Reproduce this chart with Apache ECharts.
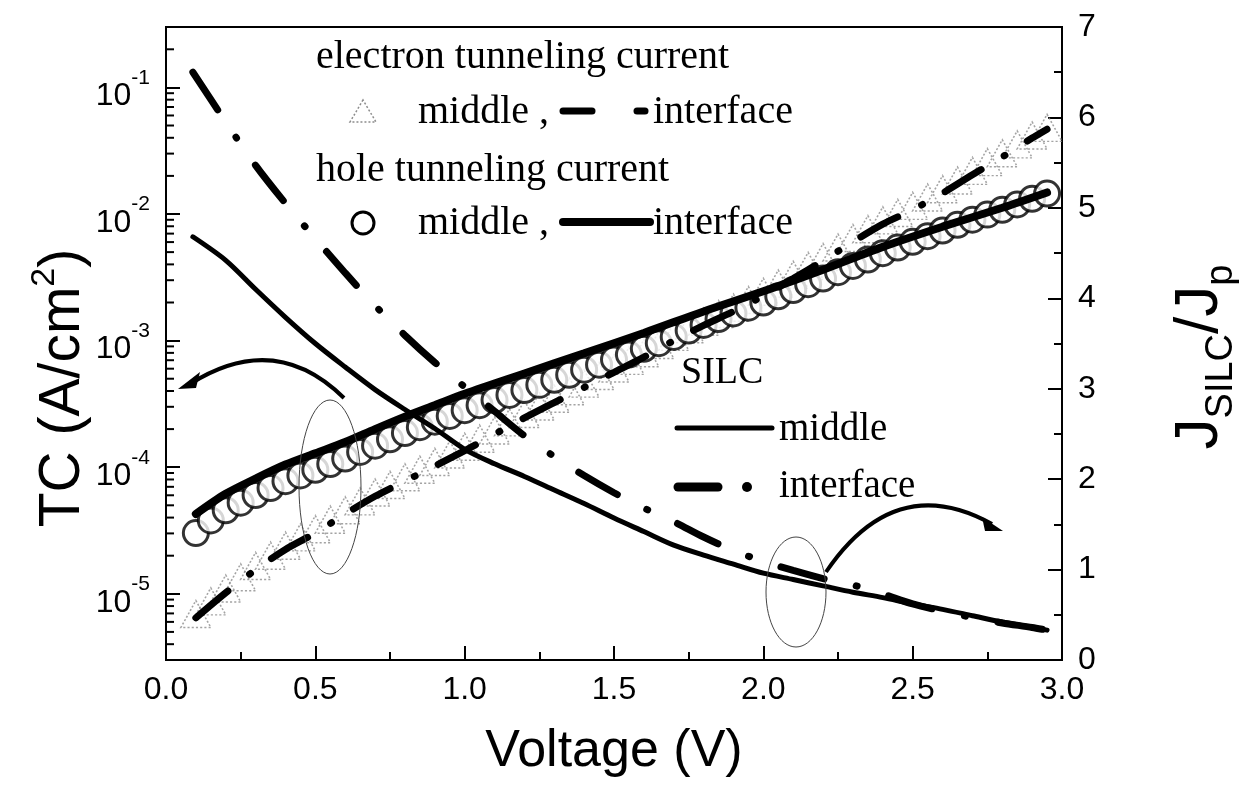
<!DOCTYPE html>
<html><head><meta charset="utf-8">
<script src="https://cdn.jsdelivr.net/npm/echarts@6/dist/echarts.min.js"></script>
<style>html,body{margin:0;padding:0;background:#fff}#c{width:1239px;height:786px}</style>
</head><body><div id="c"></div>
<script>
// ---- data ----
// hole tunneling current, middle (circles), left log axis, A/cm^2
const voltCircle = [0.10,0.15,0.20,0.25,0.30,0.35,0.40,0.45,0.50,0.55,0.60,0.65,0.70,0.75,0.80,0.85,0.90,0.95,1.00,1.05,1.10,1.15,1.20,1.25,1.30,1.35,1.40,1.45,1.50,1.55,1.60,1.65,1.70,1.75,1.80,1.85,1.90,1.95,2.00,2.05,2.10,2.15,2.20,2.25,2.30,2.35,2.40,2.45,2.50,2.55,2.60,2.65,2.70,2.75,2.80,2.85,2.90,2.95];
const holeMiddle = [3.02e-5,3.80e-5,4.57e-5,5.25e-5,6.03e-5,6.84e-5,7.76e-5,8.61e-5,9.55e-5,1.06e-4,1.17e-4,1.32e-4,1.48e-4,1.66e-4,1.86e-4,2.07e-4,2.29e-4,2.54e-4,2.82e-4,3.09e-4,3.39e-4,3.72e-4,4.07e-4,4.47e-4,4.90e-4,5.37e-4,5.89e-4,6.46e-4,7.08e-4,7.76e-4,8.61e-4,9.55e-4,1.07e-3,1.20e-3,1.33e-3,1.48e-3,1.64e-3,1.82e-3,2.00e-3,2.24e-3,2.51e-3,2.79e-3,3.09e-3,3.47e-3,3.89e-3,4.37e-3,4.90e-3,5.43e-3,6.03e-3,6.68e-3,7.41e-3,8.22e-3,9.02e-3,9.89e-3,1.08e-2,1.19e-2,1.32e-2,1.45e-2];
// hole tunneling current, interface (solid line)
const voltHoleIf = [0.10,0.20,0.30,0.40,0.50,0.60,0.70,0.80,0.90,1.00,1.20,1.40,1.60,1.80,2.00,2.20,2.40,2.60,2.80,2.95];
const holeInterface = [4.27e-5,6.17e-5,8.13e-5,1.05e-4,1.29e-4,1.58e-4,2.00e-4,2.51e-4,3.09e-4,3.80e-4,5.50e-4,7.94e-4,1.15e-3,1.70e-3,2.45e-3,3.63e-3,5.50e-3,7.94e-3,1.12e-2,1.48e-2];
// electron tunneling current, middle (triangles)
const voltTri = [0.10,0.15,0.20,0.25,0.30,0.35,0.40,0.45,0.50,0.55,0.60,0.65,0.70,0.75,0.80,0.85,0.90,0.95,1.00,1.05,1.10,1.15,1.20,1.25,1.30,1.35,1.40,1.45,1.50,1.55,1.60,1.65,1.70,1.75,1.80,1.85,1.90,1.95,2.00,2.05,2.10,2.15,2.20,2.25,2.30,2.35,2.40,2.45,2.50,2.55,2.60,2.65,2.70,2.75,2.80,2.85,2.90,2.95];
const electronMiddle = [6.92e-6,8.71e-6,1.10e-5,1.35e-5,1.66e-5,2.00e-5,2.40e-5,2.79e-5,3.24e-5,3.85e-5,4.57e-5,5.37e-5,6.31e-5,7.24e-5,8.32e-5,9.55e-5,1.10e-4,1.26e-4,1.45e-4,1.68e-4,1.95e-4,2.26e-4,2.63e-4,3.02e-4,3.47e-4,3.98e-4,4.57e-4,5.25e-4,6.03e-4,6.92e-4,7.94e-4,9.23e-4,1.07e-3,1.23e-3,1.41e-3,1.62e-3,1.82e-3,2.09e-3,2.43e-3,2.82e-3,3.31e-3,3.89e-3,4.57e-3,5.43e-3,6.46e-3,7.59e-3,8.91e-3,1.02e-2,1.16e-2,1.35e-2,1.57e-2,1.84e-2,2.19e-2,2.57e-2,3.02e-2,3.55e-2,4.17e-2,4.79e-2];
// electron tunneling current, interface (dash-dot line)
const voltElIf = [0.10,0.20,0.30,0.40,0.50,0.60,0.70,0.80,0.90,1.00,1.10,1.20,1.30,1.40,1.50,1.60,1.70,1.80,1.90,2.00,2.10,2.20,2.30,2.40,2.50,2.60,2.70,2.80,2.90,2.95];
const electronInterface = [6.46e-6,1.02e-5,1.55e-5,2.24e-5,3.02e-5,4.27e-5,5.89e-5,7.76e-5,1.02e-4,1.35e-4,1.82e-4,2.45e-4,3.24e-4,4.27e-4,5.62e-4,7.41e-4,1.00e-3,1.32e-3,1.70e-3,2.26e-3,3.09e-3,4.27e-3,6.03e-3,8.32e-3,1.08e-2,1.46e-2,2.04e-2,2.82e-2,3.98e-2,4.68e-2];
// SILC ratio J_SILC/J_p, right axis
const voltSilc = [0.09,0.20,0.30,0.40,0.50,0.60,0.70,0.80,0.90,1.00,1.10,1.20,1.30,1.40,1.50,1.60,1.70,1.80,1.90,2.00,2.10,2.20,2.30,2.40,2.50,2.60,2.70,2.80,2.90,2.95];
const silcMiddle = [4.68,4.42,4.10,3.79,3.50,3.24,2.99,2.77,2.56,2.33,2.17,2.03,1.88,1.73,1.57,1.42,1.27,1.16,1.06,0.96,0.89,0.82,0.75,0.69,0.62,0.56,0.49,0.42,0.36,0.33];
const silcInterface = [6.50,5.95,5.47,5.05,4.66,4.28,3.92,3.59,3.29,3.02,2.75,2.48,2.25,2.04,1.85,1.68,1.53,1.36,1.21,1.09,0.99,0.90,0.83,0.73,0.62,0.54,0.47,0.41,0.36,0.33];
// axes
const xMin = 0, xMax = 3, xStep = 0.5;
const tcMin = 3e-6, tcMax = 0.3;
const decadeExponents = [-5, -4, -3, -2, -1];
const minorMantissas = [2, 3, 4, 5, 6, 7, 8, 9];
const ratioMin = 0, ratioMax = 7, ratioStep = 1;

// ---- chart ----
const pair = (xs, ys) => xs.map((x, i) => [x, ys[i]]);
const lg = Math.log10;
const minorTickVals = [];
for (let d = -6; d <= -1; d++) for (const m of minorMantissas) { const v = m * Math.pow(10, d); if (v >= tcMin * 0.999 && v <= tcMax * 1.001) minorTickVals.push([xMin, v]); }

const SANS = 'Liberation Sans, Arial, sans-serif';
const SERIF = 'Liberation Serif, Times New Roman, serif';
const chart = echarts.init(document.getElementById('c'), null, {renderer: 'canvas'});
const black = '#000';

function txt(x, y, s, size) {
  return {type: 'text', x: x, y: y, z: 100, style: {text: s, font: size + 'px ' + SERIF, fill: black, verticalAlign: 'middle', align: 'left'}};
}

chart.setOption({
  animation: false,
  backgroundColor: '#fff',
  grid: {left: 166, right: 177, top: 27, bottom: 126, show: true, borderColor: black, borderWidth: 2, backgroundColor: 'transparent'},
  xAxis: {
    type: 'value', min: xMin, max: xMax, interval: xStep,
    axisLine: {show: true, lineStyle: {color: black, width: 2}},
    axisTick: {inside: true, length: 14, lineStyle: {color: black, width: 2}},
    minorTick: {show: true, splitNumber: 2, length: 8, lineStyle: {color: black, width: 2}},
    splitLine: {show: false},
    axisLabel: {color: black, fontSize: 32, fontFamily: SANS, margin: 14, formatter: v => v.toFixed(1)},
    name: 'Voltage (V)', nameLocation: 'middle', nameGap: 66,
    nameTextStyle: {color: black, fontSize: 52, fontFamily: SANS}
  },
  yAxis: [
    {
      type: 'log', logBase: 10, min: tcMin, max: tcMax, position: 'left',
      axisLine: {show: true, lineStyle: {color: black, width: 2}},
      axisTick: {inside: true, length: 14, lineStyle: {color: black, width: 2}},
      splitLine: {show: false},
      axisLabel: {
        margin: 16, color: black,
        formatter: v => { const e = lg(v); const r = Math.round(e); if (Math.abs(e - r) > 1e-6 || decadeExponents.indexOf(r) < 0) return ''; return '{b|10}{s|' + r + '}'; },
        rich: {
          b: {fontSize: 32, fontFamily: SANS, color: black, lineHeight: 34, verticalAlign: 'bottom'},
          s: {fontSize: 21, fontFamily: SANS, color: black, lineHeight: 50, verticalAlign: 'top', padding: [5, 0, 0, 0]}
        }
      }
    },
    {
      type: 'value', min: ratioMin, max: ratioMax, interval: ratioStep, position: 'right',
      axisLine: {show: true, lineStyle: {color: black, width: 2}},
      axisTick: {inside: true, length: 14, lineStyle: {color: black, width: 2}},
      minorTick: {show: true, splitNumber: 2, length: 8, lineStyle: {color: black, width: 2}},
      splitLine: {show: false},
      axisLabel: {color: black, fontSize: 32, fontFamily: SANS, margin: 16}
    }
  ],
  series: [
    {name: 'log minor ticks', type: 'custom', yAxisIndex: 0, data: minorTickVals, silent: true, clip: false, z: 20,
      renderItem: (params, api) => {
        const p = api.coord([api.value(0), api.value(1)]);
        return {type: 'line', shape: {x1: p[0], y1: p[1], x2: p[0] + 8, y2: p[1]}, style: {stroke: black, lineWidth: 2}};
      }},
    {name: 'electron middle', type: 'scatter', yAxisIndex: 0, data: pair(voltTri, electronMiddle),
      symbol: 'triangle', symbolSize: [30, 27], z: 1,
      itemStyle: {color: 'rgba(255,255,255,0)', borderColor: '#8c8c8c', borderWidth: 1.5, borderType: [2, 2]}},
    {name: 'hole middle', type: 'scatter', yAxisIndex: 0, data: pair(voltCircle, holeMiddle),
      symbol: 'circle', symbolSize: 25, z: 2,
      itemStyle: {color: '#fff', borderColor: black, borderWidth: 3}},
    {name: 'electron interface', type: 'line', yAxisIndex: 0, data: pair(voltElIf, electronInterface),
      showSymbol: false, smooth: 0.3, z: 3,
      lineStyle: {color: black, width: 7, type: [42, 27, 1, 26], cap: 'round'}},
    {name: 'hole interface', type: 'line', yAxisIndex: 0, data: pair(voltHoleIf, holeInterface),
      showSymbol: false, smooth: 0.3, z: 4,
      lineStyle: {color: black, width: 8, cap: 'round'}},
    {name: 'SILC middle', type: 'line', yAxisIndex: 1, data: pair(voltSilc, silcMiddle),
      showSymbol: false, smooth: 0.3, z: 5,
      lineStyle: {color: black, width: 5, cap: 'round'}},
    {name: 'SILC interface', type: 'line', yAxisIndex: 1, data: pair(voltSilc, silcInterface),
      showSymbol: false, smooth: 0.3, z: 6,
      lineStyle: {color: black, width: 7, type: [45, 33, 1, 33], cap: 'round'}}
  ],
  graphic: [
    // axis titles (rotated)
    {type: 'text', x: 59, y: 388, rotation: Math.PI / 2, z: 100,
      style: {text: '{a|TC (A/cm}{sup|2}{a|)}', align: 'center', verticalAlign: 'middle',
        rich: {a: {fontSize: 57, fontFamily: SANS, fill: black, lineHeight: 66, verticalAlign: 'bottom'},
               sup: {fontSize: 34, fontFamily: SANS, fill: black, lineHeight: 66, verticalAlign: 'top', padding: [2, 0, 0, 0]}}}},
    {type: 'text', x: 1205, y: 357, rotation: Math.PI / 2, z: 100,
      style: {text: '{a|J}{sub|SILC}{a|/J}{sub|p}', align: 'center', verticalAlign: 'middle',
        rich: {a: {fontSize: 62, fontFamily: SANS, fill: black, lineHeight: 72, verticalAlign: 'top'},
               sub: {fontSize: 38, fontFamily: SANS, fill: black, lineHeight: 72, verticalAlign: 'bottom'}}}},
    // legend block
    txt(316, 57, 'electron tunneling current', 40),
    {type: 'polygon', z: 100, shape: {points: [[363, 100], [350, 122], [376, 122]]}, style: {fill: 'none', stroke: '#8c8c8c', lineWidth: 1.5, lineDash: [2, 2]}},
    txt(418, 112, 'middle ,', 40),
    {type: 'line', z: 100, shape: {x1: 563, y1: 111, x2: 592, y2: 111}, style: {stroke: black, lineWidth: 7, lineCap: 'round'}},
    {type: 'line', z: 100, shape: {x1: 637, y1: 111, x2: 645, y2: 111}, style: {stroke: black, lineWidth: 7, lineCap: 'round'}},
    txt(653, 112, 'interface', 40),
    txt(316, 170, 'hole tunneling current', 40),
    {type: 'circle', z: 100, shape: {cx: 363, cy: 223, r: 11}, style: {fill: '#fff', stroke: black, lineWidth: 3}},
    txt(418, 223, 'middle ,', 40),
    {type: 'line', z: 100, shape: {x1: 563, y1: 222, x2: 650, y2: 222}, style: {stroke: black, lineWidth: 8, lineCap: 'round'}},
    txt(653, 223, 'interface', 40),
    txt(681, 373, 'SILC', 38),
    {type: 'line', z: 100, shape: {x1: 677, y1: 428, x2: 772, y2: 428}, style: {stroke: black, lineWidth: 5, lineCap: 'round'}},
    txt(779, 430, 'middle', 39),
    {type: 'line', z: 100, shape: {x1: 678, y1: 487, x2: 718, y2: 487}, style: {stroke: black, lineWidth: 9, lineCap: 'round'}},
    {type: 'circle', z: 100, shape: {cx: 747, cy: 487, r: 5}, style: {fill: black}},
    txt(779, 487, 'interface', 39),
    // annotations
    {type: 'ellipse', z: 90, shape: {cx: 330, cy: 487, rx: 31, ry: 87}, style: {fill: 'none', stroke: '#444', lineWidth: 1}},
    {type: 'ellipse', z: 90, shape: {cx: 796, cy: 592, rx: 30, ry: 55}, style: {fill: 'none', stroke: '#444', lineWidth: 1}},
    {type: 'bezierCurve', z: 90, shape: {x1: 344, y1: 398, cpx1: 275, cpy1: 330, x2: 190, y2: 384}, style: {stroke: black, lineWidth: 4, fill: 'none'}},
    {type: 'polygon', z: 90, shape: {points: [[178, 389], [200, 372], [196, 388]]}, style: {fill: black}},
    {type: 'bezierCurve', z: 90, shape: {x1: 826, y1: 572, cpx1: 895, cpy1: 470, x2: 992, y2: 524}, style: {stroke: black, lineWidth: 4, fill: 'none'}},
    {type: 'polygon', z: 90, shape: {points: [[1003, 531], [982, 517], [985, 531]]}, style: {fill: black}}
  ]
});
</script>
</body></html>
